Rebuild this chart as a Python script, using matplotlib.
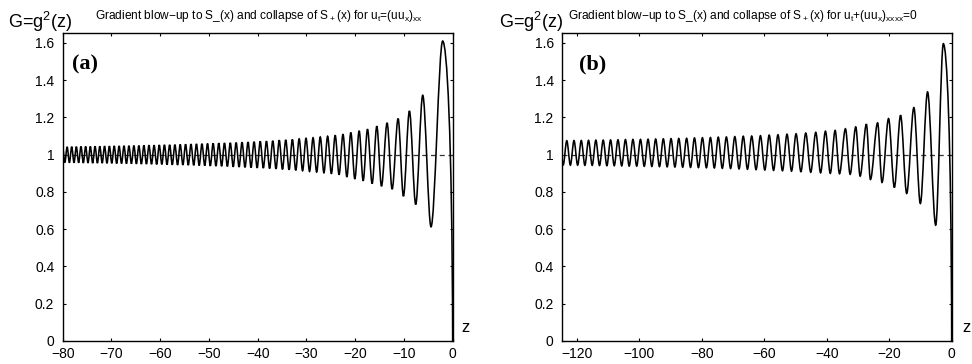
import numpy as np
import matplotlib
matplotlib.use("Agg")
import matplotlib.pyplot as plt
from matplotlib.path import Path
from matplotlib.patches import PathPatch
from matplotlib.ticker import FuncFormatter

plt.rcParams['font.family'] = ['Liberation Sans', 'DejaVu Sans']
plt.rcParams['mathtext.default'] = 'regular'

# ---- panel (a): u_t = (u u_x)_xx, extrema of G ----
A_PEAK_Z = [-80.03, -79.09, -78.15, -77.20, -76.25, -75.29, -74.33, -73.36, -72.39, -71.41,
            -70.42, -69.43, -68.43, -67.42, -66.41, -65.39, -64.37, -63.34, -62.30, -61.25,
            -60.19, -59.13, -58.06, -56.98, -55.89, -54.79, -53.68, -52.56, -51.43, -50.29,
            -49.14, -47.98, -46.81, -45.62, -44.42, -43.21, -41.98, -40.74, -39.48, -38.20,
            -36.90, -35.58, -34.24, -32.88, -31.49, -30.08, -28.64, -27.16, -25.65, -24.10,
            -22.50, -20.89, -19.18, -17.47, -15.56, -13.45, -11.19, -8.87, -6.14, -2.05]
A_PEAK_G = [1.042, 1.042, 1.043, 1.043, 1.044, 1.044, 1.044, 1.045, 1.045, 1.046,
            1.046, 1.047, 1.047, 1.048, 1.048, 1.049, 1.049, 1.050, 1.051, 1.051,
            1.052, 1.053, 1.053, 1.054, 1.055, 1.056, 1.057, 1.058, 1.059, 1.060,
            1.061, 1.062, 1.063, 1.064, 1.065, 1.067, 1.068, 1.070, 1.072, 1.073,
            1.075, 1.078, 1.080, 1.082, 1.085, 1.088, 1.091, 1.095, 1.099, 1.104,
            1.110, 1.119, 1.128, 1.137, 1.153, 1.171, 1.194, 1.235, 1.319, 1.610]
A_TROUGH_Z = [-79.56, -78.62, -77.68, -76.73, -75.77, -74.81, -73.85, -72.88, -71.90, -70.92,
              -69.93, -68.93, -67.93, -66.92, -65.90, -64.88, -63.86, -62.82, -61.78, -60.72,
              -59.66, -58.60, -57.52, -56.44, -55.34, -54.24, -53.12, -52.00, -50.86, -49.72,
              -48.56, -47.40, -46.22, -45.02, -43.82, -42.60, -41.36, -40.11, -38.84, -37.55,
              -36.24, -34.91, -33.56, -32.19, -30.79, -29.36, -27.90, -26.41, -24.88, -23.30,
              -21.70, -20.07, -18.36, -16.52, -14.60, -12.42, -10.10, -7.58, -4.44]
A_TROUGH_G = [0.958, 0.957, 0.957, 0.957, 0.956, 0.956, 0.955, 0.955, 0.955, 0.954,
              0.954, 0.953, 0.953, 0.952, 0.952, 0.951, 0.950, 0.950, 0.949, 0.948,
              0.948, 0.947, 0.946, 0.945, 0.945, 0.944, 0.943, 0.942, 0.941, 0.940,
              0.939, 0.938, 0.937, 0.935, 0.934, 0.932, 0.931, 0.929, 0.928, 0.926,
              0.924, 0.921, 0.919, 0.916, 0.914, 0.910, 0.907, 0.903, 0.898, 0.893,
              0.881, 0.870, 0.860, 0.845, 0.831, 0.815, 0.777, 0.733, 0.613]

# ---- panel (b): u_t + (u u_x)_xxxx = 0 ----
B_PEAK_Z = [-125.47, -123.17, -120.86, -118.54, -116.21, -113.87, -111.52, -109.16, -106.79, -104.40,
            -102.00, -99.59, -97.17, -94.73, -92.28, -89.81, -87.33, -84.83, -82.31, -79.77,
            -77.20, -74.70, -72.10, -69.40, -66.70, -64.00, -61.20, -58.40, -55.60, -52.70,
            -49.80, -46.70, -43.50, -40.40, -37.30, -34.00, -30.70, -27.30, -23.70, -20.20,
            -16.35, -12.10, -7.72, -2.67]
B_PEAK_G = [1.075, 1.075, 1.076, 1.076, 1.077, 1.078, 1.078, 1.079, 1.080, 1.081,
            1.082, 1.082, 1.083, 1.084, 1.085, 1.086, 1.087, 1.088, 1.090, 1.091,
            1.092, 1.094, 1.095, 1.097, 1.099, 1.100, 1.102, 1.105, 1.107, 1.110,
            1.112, 1.116, 1.120, 1.126, 1.130, 1.139, 1.149, 1.164, 1.171, 1.194,
            1.212, 1.253, 1.337, 1.596]
B_TROUGH_Z = [-124.32, -122.02, -119.70, -117.38, -115.04, -112.70, -110.34, -107.98, -105.60, -103.20,
              -100.80, -98.38, -95.95, -93.51, -91.05, -88.57, -86.08, -83.57, -81.04, -78.49,
              -75.95, -73.40, -70.75, -68.05, -65.35, -62.60, -59.80, -57.00, -54.15, -51.25,
              -48.25, -45.10, -41.95, -38.85, -35.90, -32.50, -29.30, -26.00, -22.30, -18.35,
              -14.40, -10.03, -5.12]
B_TROUGH_G = [0.945, 0.944, 0.944, 0.943, 0.943, 0.942, 0.941, 0.941, 0.940, 0.939,
              0.939, 0.938, 0.937, 0.936, 0.935, 0.934, 0.933, 0.932, 0.931, 0.930,
              0.929, 0.927, 0.926, 0.924, 0.922, 0.920, 0.918, 0.916, 0.914, 0.912,
              0.909, 0.906, 0.903, 0.900, 0.898, 0.895, 0.885, 0.867, 0.851, 0.824,
              0.792, 0.738, 0.622]

END_Z, END_G = 0.0, 0.0     # G vanishes at z = 0
G_REF = 1.0                 # dashed reference level

Y_TICKS = [0, 0.2, 0.4, 0.6, 0.8, 1.0, 1.2, 1.4, 1.6]
A_XTICKS = [-80, -70, -60, -50, -40, -30, -20, -10, 0]
B_XTICKS = [-120, -100, -80, -60, -40, -20, 0]

TITLE_A = r'Gradient blow$-$up to S_(x) and collapse of S$_+$(x) for u$_t$=(uu$_x$)$_{xx}$'
TITLE_B = r'Gradient blow$-$up to S_(x) and collapse of S$_+$(x) for u$_t$+(uu$_x$)$_{xxxx}$=0'


def wave_path(pz, pg, tz, tg):
    z = np.concatenate([pz, tz, [END_Z]])
    g = np.concatenate([pg, tg, [END_G]])
    order = np.argsort(z)
    z, g = z[order], g[order]
    verts = [(z[0], g[0])]
    codes = [Path.MOVETO]
    for i in range(len(z) - 1):
        x0, y0, x1, y1 = z[i], g[i], z[i + 1], g[i + 1]
        dx = x1 - x0
        if i == len(z) - 2:
            # last drop down to zero is nearly vertical
            c1 = (x0 + 0.4 * dx, y0)
            c2 = (x1 - 0.05 * dx, 0.7 * y0)
        else:
            c1 = (x0 + dx / 3.0, y0)
            c2 = (x1 - dx / 3.0, y1)
        verts += [c1, c2, (x1, y1)]
        codes += [Path.CURVE4] * 3
    return Path(verts, codes)


def fmt(v, _):
    return f"{v:g}".replace('-', '\u2212')


def setup_axes(ax, xlim, xticks):
    ax.set_xlim(*xlim)
    ax.set_ylim(0, 1.655)
    ax.set_xticks(xticks)
    ax.set_yticks(Y_TICKS)
    ax.xaxis.set_major_formatter(FuncFormatter(fmt))
    ax.yaxis.set_major_formatter(FuncFormatter(fmt))
    ax.tick_params(direction='in', length=2.5, width=0.8, labelsize=10,
                   top=True, right=True)
    ax.tick_params(axis='x', pad=4.5)
    ax.tick_params(axis='y', pad=6)
    for s in ax.spines.values():
        s.set_linewidth(1.0)


fig = plt.figure(figsize=(9.72, 3.64), dpi=100)
ax_a = fig.add_axes([0.0645, 0.0632, 0.4012, 0.847])
ax_b = fig.add_axes([0.5782, 0.0632, 0.4009, 0.847])

for ax, pz, pg, tz, tg, xlim, xt in [
        (ax_a, A_PEAK_Z, A_PEAK_G, A_TROUGH_Z, A_TROUGH_G, (-80, 0), A_XTICKS),
        (ax_b, B_PEAK_Z, B_PEAK_G, B_TROUGH_Z, B_TROUGH_G, (-124.7, 0), B_XTICKS)]:
    ax.add_patch(PathPatch(wave_path(pz, pg, tz, tg), facecolor='none',
                           edgecolor='black', lw=1.15, zorder=3))
    ax.axhline(G_REF, color='#333333', lw=0.9, dashes=(4, 3), zorder=2)
    setup_axes(ax, xlim, xt)

# labels placed as in the original
for x0, xt, xl, xz, title, lab in [(0.008, 0.266, 0.074, 0.479, TITLE_A, '(a)'),
                                   (0.513, 0.764, 0.596, 0.994, TITLE_B, '(b)')]:
    fig.text(x0, 0.923, r'G=g$^2$(z)', fontsize=13, va='baseline', ha='left')
    fig.text(xt, 0.947, title, fontsize=8.6, va='baseline', ha='center')
    fig.text(xl, 0.824, lab, fontsize=16, fontweight='bold', va='center', ha='left',
             family=['Liberation Serif', 'DejaVu Serif'])
    fig.text(xz, 0.099, 'z', fontsize=12, va='center', ha='center')

fig.savefig('out.png', dpi=100)
